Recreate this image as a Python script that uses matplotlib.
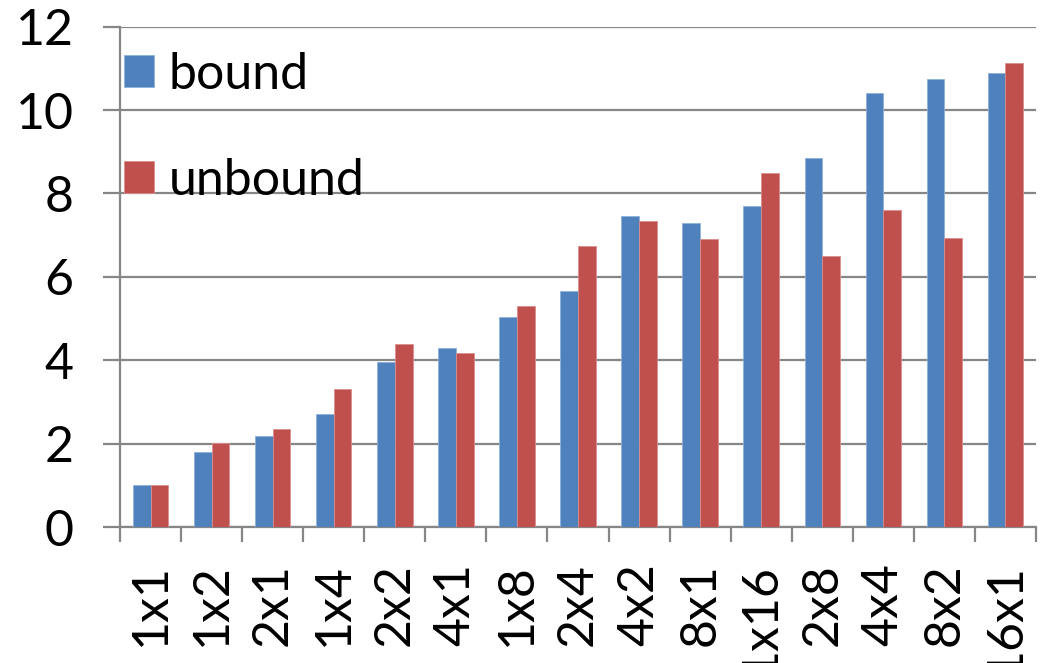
import numpy as np
import matplotlib
matplotlib.use("Agg")
import matplotlib.pyplot as plt

plt.rcParams['font.family'] = ['Lato', 'DejaVu Sans']

# chart data
configs = ['1x1', '1x2', '2x1', '1x4', '2x2', '4x1', '1x8', '2x4',
           '4x2', '8x1', '1x16', '2x8', '4x4', '8x2', '16x1']
bound = [1.0, 1.79, 2.19, 2.72, 3.96, 4.30, 5.04, 5.66,
         7.46, 7.30, 7.70, 8.85, 10.42, 10.75, 10.90]
unbound = [1.0, 2.01, 2.34, 3.30, 4.39, 4.18, 5.30, 6.74,
           7.34, 6.91, 8.49, 6.50, 7.61, 6.93, 11.12]

blue = '#4F81BD'
red = '#C0504D'
grid_col = '#868686'

fig = plt.figure(figsize=(10.43, 6.63), dpi=100)
ax = fig.add_axes([120 / 1043, 1 - 527 / 663, 916 / 1043, 500.3 / 663])

x = np.arange(len(configs))
w = 0.29
ax.bar(x - w / 2, bound, w, color=blue, edgecolor='#8EB0DA', linewidth=0.6, label='bound', zorder=3)
ax.bar(x + w / 2, unbound, w, color=red, edgecolor='#DA8E8C', linewidth=0.6, label='unbound', zorder=3)

ax.set_xlim(-0.5, len(configs) - 0.5)
ax.set_ylim(0, 12)
ax.set_yticks(range(0, 13, 2))
ax.yaxis.grid(True, color=grid_col, linewidth=1.6, zorder=0)
ax.set_axisbelow(True)

# category ticks sit between groups, labels at centres
ax.set_xticks(np.arange(-0.5, len(configs), 1.0))
ax.set_xticklabels([])
ax.set_xticks(x, minor=True)
ax.set_xticklabels(configs, minor=True, rotation=90, fontsize=36)
ax.tick_params(axis='x', which='major', length=11, width=1.6, color=grid_col)
ax.tick_params(axis='x', which='minor', length=0, pad=26)
ax.tick_params(axis='y', length=12.5, width=1.6, color=grid_col, pad=21, labelsize=36)

for s in ['top', 'right']:
    ax.spines[s].set_visible(False)
ax.spines['left'].set_color(grid_col)
ax.spines['left'].set_linewidth(1.6)
ax.spines['bottom'].set_color(grid_col)
ax.spines['bottom'].set_linewidth(1.6)

ax.legend(loc='upper left', bbox_to_anchor=(0.004, 0.95), frameon=False, fontsize=36,
          handlelength=0.6, handleheight=0.6, handletextpad=0.3, labelspacing=1.2,
          borderpad=0, borderaxespad=0)

fig.savefig('out.png', dpi=100)
